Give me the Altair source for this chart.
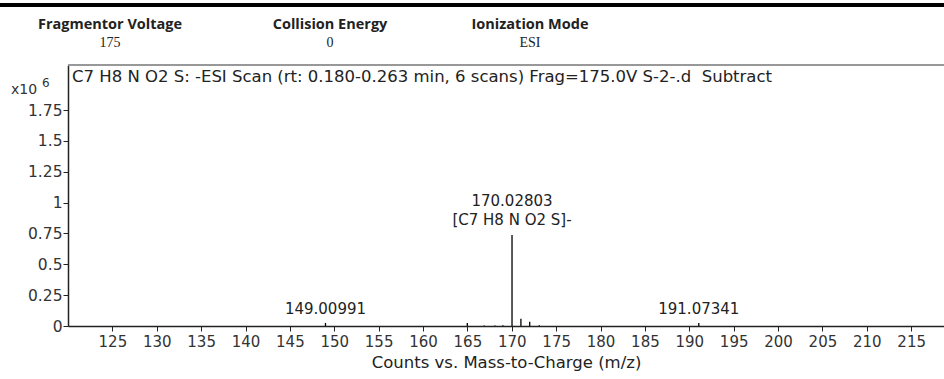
import altair as alt
import pandas as pd

# ---- data ----
mz = [149.00991, 164.99, 166.9, 168.1, 169.0, 170.02803, 171.03, 172.02, 173.1, 191.07341]
intensity = [0.025, 0.025, 0.004, 0.005, 0.006, 0.737, 0.058, 0.035, 0.006, 0.025]  # x10^6 counts

label_mz = [149.00991, 170.02803, 191.07341]
label_y = [0.025, 0.737, 0.025]
label_text = ["149.00991", "170.02803", "191.07341"]
label_formula = ["", "[C7 H8 N O2 S]-", ""]

x_ticks = [125, 130, 135, 140, 145, 150, 155, 160, 165, 170, 175, 180, 185, 190, 195, 200, 205, 210, 215]
y_ticks = [0, 0.25, 0.5, 0.75, 1, 1.25, 1.5, 1.75]

header_titles = ["Fragmentor Voltage", "Collision Energy", "Ionization Mode"]
header_values = ["175", "0", "ESI"]
plot_title = "C7 H8 N O2 S: -ESI Scan (rt: 0.180-0.263 min, 6 scans) Frag=175.0V S-2-.d\u00a0 Subtract"
x_title = "Counts vs. Mass-to-Charge (m/z)"

W, H = 876, 261
FONT = "DejaVu Sans"

peaks = pd.DataFrame({"mz": mz, "y": intensity})
labels = pd.DataFrame({"mz": label_mz, "y": label_y, "t": label_text, "f": label_formula})

xscale = alt.Scale(domain=[120, 218.7], nice=False, zero=False)
yscale = alt.Scale(domain=[0, 2.115], nice=False)

xaxis = alt.Axis(
    values=x_ticks, title=x_title, grid=False, domainColor="#222", domainWidth=1.5,
    tickColor="#222", tickSize=5, labelFont=FONT, labelFontSize=15, labelColor="#333",
    labelPadding=3, labelOverlap=False, titleFont=FONT, titleFontSize=16.5,
    titleFontWeight="normal", titleColor="#222", titlePadding=5, labelFlush=False)
yaxis = alt.Axis(
    values=y_ticks, labelExpr="datum.value + ''", title=None, grid=False, domainColor="#222",
    domainWidth=1.5, tickColor="#222", tickSize=5, labelFont=FONT, labelFontSize=15.5,
    labelColor="#333", labelPadding=1, labelOverlap=False)

X = alt.X("mz:Q", scale=xscale, axis=xaxis)
Y = alt.Y("y:Q", scale=yscale, axis=yaxis)

bars = alt.Chart(peaks).mark_rule(color="black", strokeWidth=1.3).encode(
    x=X, y=Y, y2=alt.datum(0))

lab = alt.Chart(labels)
ann_small = lab.transform_filter("datum.f == ''").mark_text(
    font=FONT, fontSize=15, baseline="bottom", dy=-6, color="#222"
).encode(x=X, y=Y, text="t:N")
ann_main = lab.transform_filter("datum.f != ''").mark_text(
    font=FONT, fontSize=15, baseline="bottom", dy=-26, color="#222"
).encode(x=X, y=Y, text="t:N")
ann_formula = lab.transform_filter("datum.f != ''").mark_text(
    font=FONT, fontSize=15, baseline="bottom", dy=-7, color="#222"
).encode(x=X, y=Y, text="f:N")

layers = [bars, ann_small, ann_main, ann_formula]

# box top border
layers.append(alt.Chart(peaks).mark_rule(color="#999", strokeWidth=1.5).encode(
    x=alt.value(0), x2=alt.value(W), y=alt.value(0)))
# thick top line of the page
layers.append(alt.Chart(peaks).mark_rule(color="black", strokeWidth=3).encode(
    x=alt.value(-68), x2=alt.value(W), y=alt.value(-60)))

# plot title inside box
layers.append(alt.Chart(pd.DataFrame({"t": [plot_title]})).mark_text(
    font=FONT, fontSize=16.5, align="left", baseline="middle", color="#222").encode(
    x=alt.value(4), y=alt.value(12), text="t:N"))

# x10^6 multiplier
layers.append(alt.Chart(pd.DataFrame({"t": ["x10"]})).mark_text(
    font=FONT, fontSize=14, align="left", baseline="middle", color="#333").encode(
    x=alt.value(-57), y=alt.value(25), text="t:N"))
layers.append(alt.Chart(pd.DataFrame({"t": ["6"]})).mark_text(
    font=FONT, fontSize=12, align="left", baseline="middle", color="#333").encode(
    x=alt.value(-26), y=alt.value(18), text="t:N"))

# header
hx = [110, 330, 530]
for i in range(3):
    layers.append(alt.Chart(pd.DataFrame({"t": [header_titles[i]]})).mark_text(
        font="Open Sans", fontSize=14.5, fontWeight="bold", align="center", baseline="middle",
        color="#222").encode(x=alt.value(hx[i] - 68), y=alt.value(-40), text="t:N"))
    layers.append(alt.Chart(pd.DataFrame({"t": [header_values[i]]})).mark_text(
        font="Liberation Serif", fontSize=14, align="center", baseline="middle",
        color="#222").encode(x=alt.value(hx[i] - 68), y=alt.value(-22), text="t:N"))

chart = alt.layer(*layers).properties(
    width=W, height=H,
    autosize=alt.AutoSizeParams(type="none"),
    padding={"left": 68, "top": 65, "right": 0, "bottom": 53},
).configure_view(stroke=None).configure(background="white")

chart.save("out.html", embed_options={"renderer": "svg", "actions": False})
